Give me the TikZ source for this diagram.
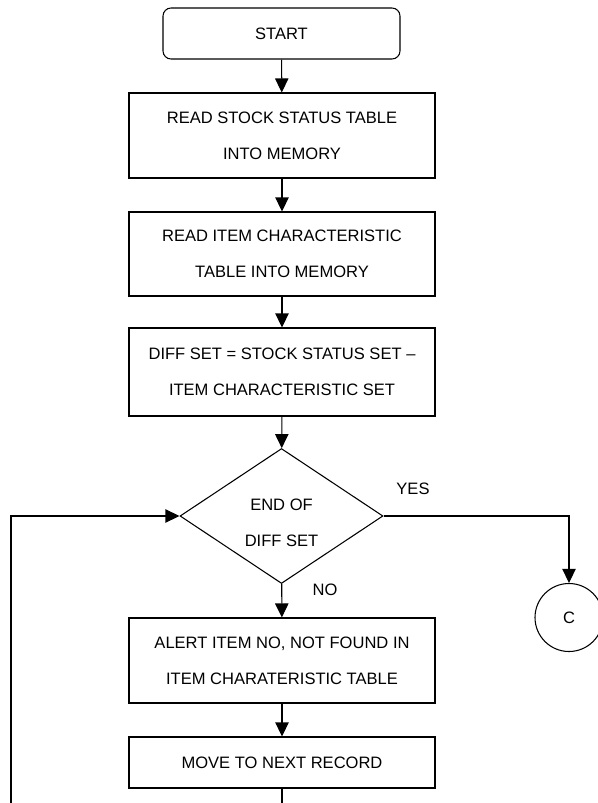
\documentclass[tikz,border=0pt]{standalone}
\usepackage{fontspec}
\setmainfont{Liberation Sans}
\usetikzlibrary{shapes.geometric,arrows.meta}

\begin{document}
\begin{tikzpicture}[x=0.75pt,y=-0.75pt,
	font=\fontsize{12.4}{27}\selectfont,
	box/.style={draw,line width=0.8pt,align=center,inner sep=0pt,
		minimum width=229.5pt,minimum height=63.75pt},
	decision/.style={draw,diamond,line width=0.8pt,align=center,inner sep=0pt,
		minimum width=152.25pt,minimum height=100.5pt},
	arr/.style={-{Triangle[length=10.5pt,width=10pt]},line width=0.8pt}]
				\useasboundingbox (0,0) rectangle (598,803);
				\clip (0,0) rectangle (598,803);
				\node[box,rounded corners=6pt,minimum width=177.75pt,
				minimum height=38.25pt] (start) at (281.5,33.5) {START};
				\node[box] (readstock) at (282,135.5) {READ STOCK STATUS TABLE\\INTO MEMORY};
				\node[box,minimum height=63pt] (readitem) at (282,254) {READ ITEM CHARACTERISTIC\\TABLE INTO MEMORY};
				\node[box,minimum height=66pt] (diffset) at (282,372) {DIFF SET = STOCK STATUS SET --\\ITEM CHARACTERISTIC SET};
				\node[decision] (enddiff) at (281.5,516) {\rule{0pt}{19pt}END OF\\DIFF SET};
				\node[box] (alert) at (282,660.5) {ALERT ITEM NO, NOT FOUND IN\\ITEM CHARATERISTIC TABLE};
				\node[box,minimum height=38.25pt] (nextrec) at (282,762.5) {MOVE TO NEXT RECORD};
				\node[draw,circle,line width=0.8pt,minimum size=51pt,inner sep=0pt] (conC) at (569,617.5) {C};
				\node at (413,489) {YES};
				\node at (325,590) {NO};
				\coordinate (loopdown) at (282,803);
				\coordinate (loopleft) at (11,803);
				\draw[arr] (start) -- (readstock);
				\draw[arr] (readstock) -- (readitem);
				\draw[arr] (readitem) -- (diffset);
				\draw[arr] (diffset) -- (enddiff);
				\draw[arr] (enddiff) -- (alert);
				\draw[arr] (alert) -- (nextrec);
				\draw[arr] (enddiff.east) -| (conC.north);
				\draw[line width=0.8pt] (nextrec) -- (loopdown);
				\draw[arr] (loopleft) |- (enddiff.west);
			\end{tikzpicture}
\end{document}
